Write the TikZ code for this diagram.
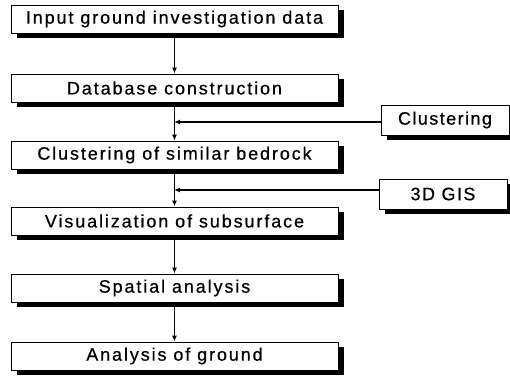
\documentclass[tikz,border=0pt]{standalone}
\usepackage{fontspec}
\setmainfont[FakeBold=0.6,LetterSpace=10.5]{Liberation Sans}
\newfontfamily\sidefont[FakeBold=0.6,LetterSpace=8]{Liberation Sans}
\usetikzlibrary{arrows.meta,shadows}
\begin{document}
\begin{tikzpicture}[x=1pt,y=-1pt,
  stepbox/.style={draw=black, line width=0.9pt, fill=white,
    minimum width=327pt, minimum height=28pt, inner sep=0pt,
    font=\fontsize{18}{21}\selectfont,
    drop shadow={shadow xshift=6pt, shadow yshift=-5pt, fill=black, opacity=1}},
  sidebox/.style={stepbox, minimum width=128pt, minimum height=30pt,
    font=\sidefont\fontsize{18}{21}\selectfont},
  flow/.style={line width=1.6pt, -{Latex[length=6pt,width=5pt]}},
  feed/.style={line width=1.2pt, -{Latex[length=6pt,width=5pt]}}]
\useasboundingbox (0,0) rectangle (510,378);

\node[stepbox] (s1) at (174.5,19)  {Input ground investigation data};
\node[stepbox] (s2) at (174.5,88)  {Database construction};
\node[stepbox] (s3) at (174.5,155) {Clustering of similar bedrock};
\node[stepbox] (s4) at (174.5,221) {Visualization of subsurface};
\node[stepbox] (s5) at (174.5,288) {Spatial analysis};
\node[stepbox] (s6) at (174.5,356) {Analysis of ground};

\node[sidebox] (c1) at (445,120) {Clustering};
\node[sidebox] (c2) at (443,194) {3D GIS};

\draw[flow] (s1) -- (s2);
\draw[flow] (s2) -- (s3);
\draw[flow] (s3) -- (s4);
\draw[flow] (s4) -- (s5);
\draw[flow] (s5) -- (s6);

\coordinate (j1) at (173,122);
\coordinate (j2) at (173,190);
\draw[feed] (c1.west |- j1) -- ([xshift=1pt]j1);
\draw[feed] (c2.west |- j2) -- ([xshift=1pt]j2);
\end{tikzpicture}
\end{document}
